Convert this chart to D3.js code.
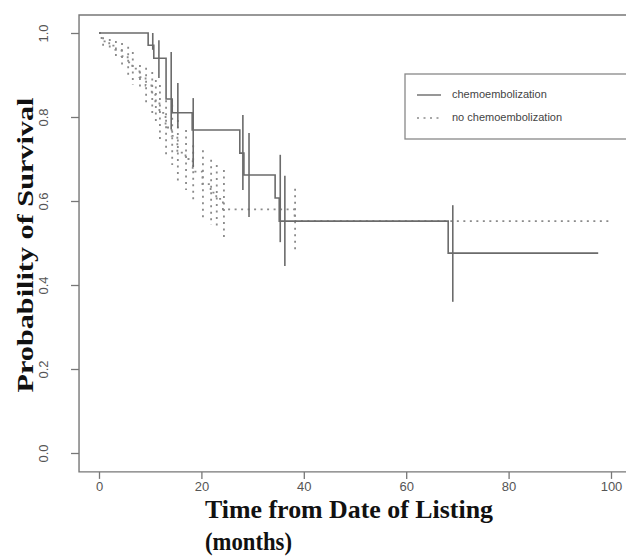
<!DOCTYPE html>
<html>
<head>
<meta charset="utf-8">
<script src="https://cdn.jsdelivr.net/npm/d3@7"></script>
<style>
  html, body { margin: 0; padding: 0; background: #fff; }
  svg { display: block; }
  .tick text { font-family: "Liberation Sans", Arial, sans-serif; font-size: 13px; fill: #555; }
  .tick line { stroke: #777; stroke-width: 1.3; }
  .axis-title { font-family: "Liberation Serif", "Times New Roman", serif; font-weight: bold; fill: #111; }
  .legend-text { font-family: "Liberation Sans", Arial, sans-serif; font-size: 11px; fill: #444; }
</style>
</head>
<body>
<div id="chart"></div>
<script>
// Kaplan-Meier curves, chemoembolization vs none, with vertical CI bars.

// chemoembolization (solid)
const solidTimes = [0, 9.6, 10.7, 13.1, 14.3, 18.2, 27.5, 28.3, 34.4, 35.2, 68.2];
const solidSurv = [1.0, 0.971, 0.94, 0.843, 0.81, 0.769, 0.714, 0.662, 0.607, 0.552, 0.476];
const solidEnd = 97.5;
const solidCiTimes = [10.5, 11.7, 14.1, 15.4, 18.4, 28.1, 29.3, 35.4, 36.3, 69.1];
const solidCiLow = [0.96, 0.893, 0.77, 0.774, 0.681, 0.626, 0.562, 0.502, 0.445, 0.36];
const solidCiHigh = [1.0, 0.983, 0.955, 0.881, 0.845, 0.805, 0.762, 0.71, 0.66, 0.59];

// no chemoembolization (dotted)
const dashTimes = [0, 0.5, 2.0, 3.2, 4.4, 5.6, 6.5, 7.9, 9.1, 10.3, 11.0, 11.8, 13.0, 14.2, 15.3, 16.9, 18.3, 20.2, 21.8, 22.9, 24.2, 38.2];
const dashSurv = [1.0, 0.98, 0.97, 0.96, 0.945, 0.93, 0.915, 0.895, 0.875, 0.855, 0.835, 0.81, 0.775, 0.755, 0.715, 0.70, 0.67, 0.64, 0.62, 0.605, 0.58, 0.552];
const dashEnd = 100;
const dashCiTimes = [0.8, 2.1, 3.3, 4.5, 5.7, 6.6, 8.0, 9.2, 10.4, 11.1, 11.9, 13.1, 14.3, 15.4, 17.0, 18.4, 20.3, 21.9, 23.0, 24.4, 38.3];
const dashCiHigh = [0.990, 0.986, 0.981, 0.976, 0.967, 0.955, 0.924, 0.917, 0.907, 0.888, 0.876, 0.840, 0.829, 0.793, 0.769, 0.733, 0.721, 0.698, 0.686, 0.674, 0.629];
const dashCiLow = [0.962, 0.955, 0.940, 0.917, 0.895, 0.876, 0.864, 0.829, 0.805, 0.781, 0.745, 0.710, 0.686, 0.638, 0.626, 0.602, 0.555, 0.543, 0.531, 0.507, 0.479];

const xTicks = [0, 20, 40, 60, 80, 100];
const yTicks = [0, 0.2, 0.4, 0.6, 0.8, 1.0];
const legendLabels = ["chemoembolization", "no chemoembolization"];

const WIDTH = 626, HEIGHT = 558;
const SOLID_COLOR = "#6b6b6b";
const DOT_COLOR = "#8a8a8a";
const DOT_DASH = "2,4.5";

const svg = d3.select("#chart").append("svg")
    .attr("width", WIDTH).attr("height", HEIGHT);

const x = d3.scaleLinear().domain([0, 100]).range([99, 611]);
const y = d3.scaleLinear().domain([0, 1]).range([453, 33]);

// plot box (R style usr extends beyond data)
const boxL = x(-3.9), boxR = x(105), boxT = y(1.043), boxB = y(-0.045);
svg.append("path")
    .attr("d", `M${boxR},${boxT}H${boxL}V${boxB}H${boxR}`)
    .attr("fill", "none").attr("stroke", "#777").attr("stroke-width", 1.4);

// axes
const xAxis = svg.append("g")
    .attr("transform", `translate(0,${boxB})`)
    .call(d3.axisBottom(x).tickValues(xTicks).tickSize(7).tickPadding(3)
        .tickFormat(d3.format("d")));
xAxis.select(".domain").remove();

const yAxis = svg.append("g")
    .attr("transform", `translate(${boxL},0)`)
    .call(d3.axisLeft(y).tickValues(yTicks).tickSize(8)
        .tickFormat(d3.format(".1f")));
yAxis.select(".domain").remove();
yAxis.selectAll(".tick text")
    .attr("transform", "rotate(-90)")
    .attr("x", 0).attr("y", -31).attr("dy", 0)
    .attr("text-anchor", "middle");

// axis titles (the source image is squeezed horizontally, hence textLength)
svg.append("text").attr("class", "axis-title")
    .attr("transform", "translate(33,245) rotate(-90)")
    .attr("text-anchor", "middle")
    .style("font-size", "24px")
    .attr("textLength", 295).attr("lengthAdjust", "spacingAndGlyphs")
    .text("Probability of Survival");
svg.append("text").attr("class", "axis-title")
    .attr("x", 205).attr("y", 518)
    .style("font-size", "26px")
    .attr("textLength", 288).attr("lengthAdjust", "spacingAndGlyphs")
    .text("Time from Date of Listing");
svg.append("text").attr("class", "axis-title")
    .attr("x", 205).attr("y", 550)
    .style("font-size", "26px")
    .attr("textLength", 87).attr("lengthAdjust", "spacingAndGlyphs")
    .text("(months)");

// step curves
const step = d3.line()
    .x((d) => x(d[0]))
    .y((d) => y(d[1]))
    .curve(d3.curveStepAfter);

const solidPts = solidTimes.map((t, i) => [t, solidSurv[i]]);
solidPts.push([solidEnd, solidSurv[solidSurv.length - 1]]);
const dashPts = dashTimes.map((t, i) => [t, dashSurv[i]]);
dashPts.push([dashEnd, dashSurv[dashSurv.length - 1]]);

// CI bars
svg.append("g").selectAll("line")
    .data(dashCiTimes)
    .join("line")
    .attr("x1", (d) => x(d)).attr("x2", (d) => x(d))
    .attr("y1", (d, i) => y(dashCiHigh[i])).attr("y2", (d, i) => y(dashCiLow[i]))
    .attr("stroke", DOT_COLOR).attr("stroke-width", 1.8)
    .attr("stroke-dasharray", DOT_DASH);

svg.append("path").datum(dashPts)
    .attr("d", step)
    .attr("fill", "none").attr("stroke", DOT_COLOR).attr("stroke-width", 1.8)
    .attr("stroke-dasharray", DOT_DASH);

svg.append("g").selectAll("line")
    .data(solidCiTimes)
    .join("line")
    .attr("x1", (d) => x(d)).attr("x2", (d) => x(d))
    .attr("y1", (d, i) => y(solidCiHigh[i])).attr("y2", (d, i) => y(solidCiLow[i]))
    .attr("stroke", SOLID_COLOR).attr("stroke-width", 1.6);

svg.append("path").datum(solidPts)
    .attr("d", step)
    .attr("fill", "none").attr("stroke", SOLID_COLOR).attr("stroke-width", 1.6);

// legend
const lg = svg.append("g").attr("transform", "translate(405,74)");
lg.append("rect")
    .attr("width", 260).attr("height", 65)
    .attr("fill", "#fff").attr("stroke", "#888").attr("stroke-width", 1.3);
legendLabels.forEach((lab, i) => {
    const ly = 21 + i * 23;
    lg.append("line")
        .attr("x1", 12).attr("x2", 36).attr("y1", ly).attr("y2", ly)
        .attr("stroke", i === 0 ? SOLID_COLOR : DOT_COLOR)
        .attr("stroke-width", i === 0 ? 1.4 : 1.6)
        .attr("stroke-dasharray", i === 0 ? null : DOT_DASH);
    lg.append("text").attr("class", "legend-text")
        .attr("x", 47).attr("y", ly)
        .attr("dominant-baseline", "middle")
        .text(lab);
});
</script>
</body>
</html>
